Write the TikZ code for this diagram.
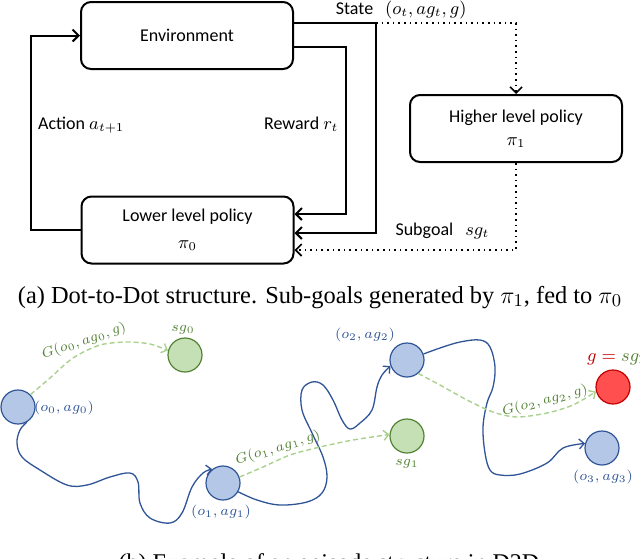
\documentclass[tikz,border=0pt]{standalone}
\usepackage{fontspec}
\setmainfont{Liberation Serif}
\newfontfamily\calibri{Carlito}
\usetikzlibrary{arrows.meta}
\definecolor{obsFill}{HTML}{B4C7E7}
\definecolor{obsLine}{HTML}{2F5597}
\definecolor{subFill}{HTML}{C5E0B4}
\definecolor{subLine}{HTML}{548235}
\definecolor{subDash}{HTML}{A9D18E}
\definecolor{goalFill}{HTML}{FF4F4F}
\definecolor{goalLine}{HTML}{C00000}
\begin{document}
\begin{tikzpicture}[x=0.5pt,y=-0.5pt]
\tikzstyle{policy}=[rectangle,draw,line width=1pt,rounded corners=5pt,minimum width=106pt,minimum height=33.5pt,align=center,font=\calibri\fontsize{9}{11.5}\selectfont]
\tikzstyle{flow}=[line width=1pt,-{Straight Barb[length=3pt,width=6pt]}]
\tikzstyle{msg}=[line width=0.8pt,dotted,-{Straight Barb[length=3pt,width=6pt]}]
\tikzstyle{lab}=[font=\calibri\fontsize{9}{11}\selectfont]
\tikzstyle{obs}=[circle,draw=obsLine,fill=obsFill,line width=0.6pt,minimum size=17pt,inner sep=0pt]
\tikzstyle{sub}=[obs,draw=subLine,fill=subFill]
\tikzstyle{goal}=[obs,draw=goalLine,fill=goalFill]
\tikzstyle{traj}=[obsLine,line width=0.65pt,-{Straight Barb[length=2.5pt,width=5pt]}]
\tikzstyle{guess}=[subDash,dashed,dash pattern=on 2.5pt off 1.5pt,line width=0.7pt,-{Straight Barb[length=2.5pt,width=5pt]}]
\tikzstyle{obsText}=[text=obsLine,font=\fontsize{7.5}{9}\selectfont]
\tikzstyle{subText}=[text=subLine,font=\fontsize{7}{9}\selectfont]

\useasboundingbox (0,0) rectangle (640,558);

%(a) policies.
\node[policy] (env) at (187,35.5) {Environment};
\node[policy] (lower) at (187.5,230) {Lower level policy\\[2pt]$\pi_0$};
\node[policy] (high) at (516,128.5) {Higher level policy\\$\pi_1$};

\draw[flow] (lower.west) -- ++(-50,0) |- (env.west) node[pos=0.27, right, lab] {Action $a_{t+1}$};
\draw[flow] ([yshift=-5.75pt]env.east) -- ++(52,0) |- ([yshift=8pt]lower.east) node[pos=0.23, left, lab] {Reward $r_t$};
\draw[flow] ([yshift=6.25pt]env.east) -- ++(82,0) coordinate (stateFork) |- ([yshift=-1.5pt]lower.east);
\draw[msg] (stateFork) -| (high.north) node[pos=0.09, above=-1.5pt, lab] {State\enskip\,$(o_t, ag_t, g)$};
\draw[msg] (high.south) |- ([yshift=-10pt]lower.east) node[pos=0.666, above=2pt, lab] {Subgoal\enskip\,$sg_t$};

\node[anchor=base, font=\fontsize{12.2}{14}\selectfont] (capA) at (320,303) {(a) Dot-to-Dot structure. Sub-goals generated by $\pi_1$, fed to $\pi_0$};

%(b) episode.
\node[obs] (o0) at (18,407) {};
\node[sub] (sg0) at (185,355) {};
\node[obs] (o1) at (223,483) {};
\node[sub] (sg1) at (407,436) {};
\node[obs] (o2) at (407,360) {};
\node[goal] (gFinal) at (613,387) {};
\node[obs] (o3) at (602,448) {};

\node[obsText] (o0Lab) at (64,408) {$(o_0, ag_0)$};
\node[obsText] (o1Lab) at (221,512) {$(o_1, ag_1)$};
\node[obsText] (o2Lab) at (365,335) {$(o_2, ag_2)$};
\node[obsText] (o3Lab) at (603,477) {$(o_3, ag_3)$};
\node[subText] (sg0Lab) at (183,330) {$sg_0$};
\node[subText] (sg1Lab) at (407,464) {$sg_1$};
\node[font=\fontsize{9.5}{12}\selectfont, anchor=west] (gLab) at (580,359) {$\color{goalLine}g = \color{subLine}sg_2$};

\draw[traj] plot[smooth, tension=0.6] coordinates {(o0.-60) (20,430) (17,443) (22,457) (40,470) (67,485) (87,485) (110,477) (130,473) (138,482) (140,503) (150,518) (170,523) (182,513) (192,487) (203,473) (o1.128)};
\draw[traj] plot[smooth, tension=0.6] coordinates {(o1.-30) (257,500) (280,505) (307,502) (322,493) (327,477) (323,457) (312,433) (302,410) (302,390) (312,382) (323,385) (333,400) (342,420) (350,429) (360,423) (372,410) (377,387) (382,375) (o2.200)};
\draw[traj] plot[smooth, tension=0.6] coordinates {(o2.20) (440,348) (460,342) (480,340) (490,347) (495,367) (493,387) (487,403) (483,427) (485,453) (490,470) (500,475) (520,474) (547,463) (563,448) (o3.165)};

\draw[guess] plot[smooth] coordinates {(o0.45) (50,378) (73,358) (100,345) (127,342) (150,344) (sg0.165)};
\draw[guess] plot[smooth] coordinates {(o1.20) (263,467) (290,455) (320,447) (353,440) (sg1.175)};
\draw[guess] plot[smooth] coordinates {(o2.-50) (440,385) (467,400) (493,412) (517,417) (547,413) (573,405) (gFinal.195)};

\node[subText, rotate=18.7] (g0Lab) at (84,341) {$G(o_0, ag_0, g)$};
\node[subText, rotate=17.4] (g1Lab) at (278,448) {$G(o_1, ag_1, g)$};
\node[subText, rotate=15] (g2Lab) at (545,401) {$G(o_2, ag_2, g)$};

\node[anchor=base, font=\fontsize{12}{14}\selectfont] (capB) at (329,570) {(b) Example of an episode structure in D2D};
\end{tikzpicture}
\end{document}
